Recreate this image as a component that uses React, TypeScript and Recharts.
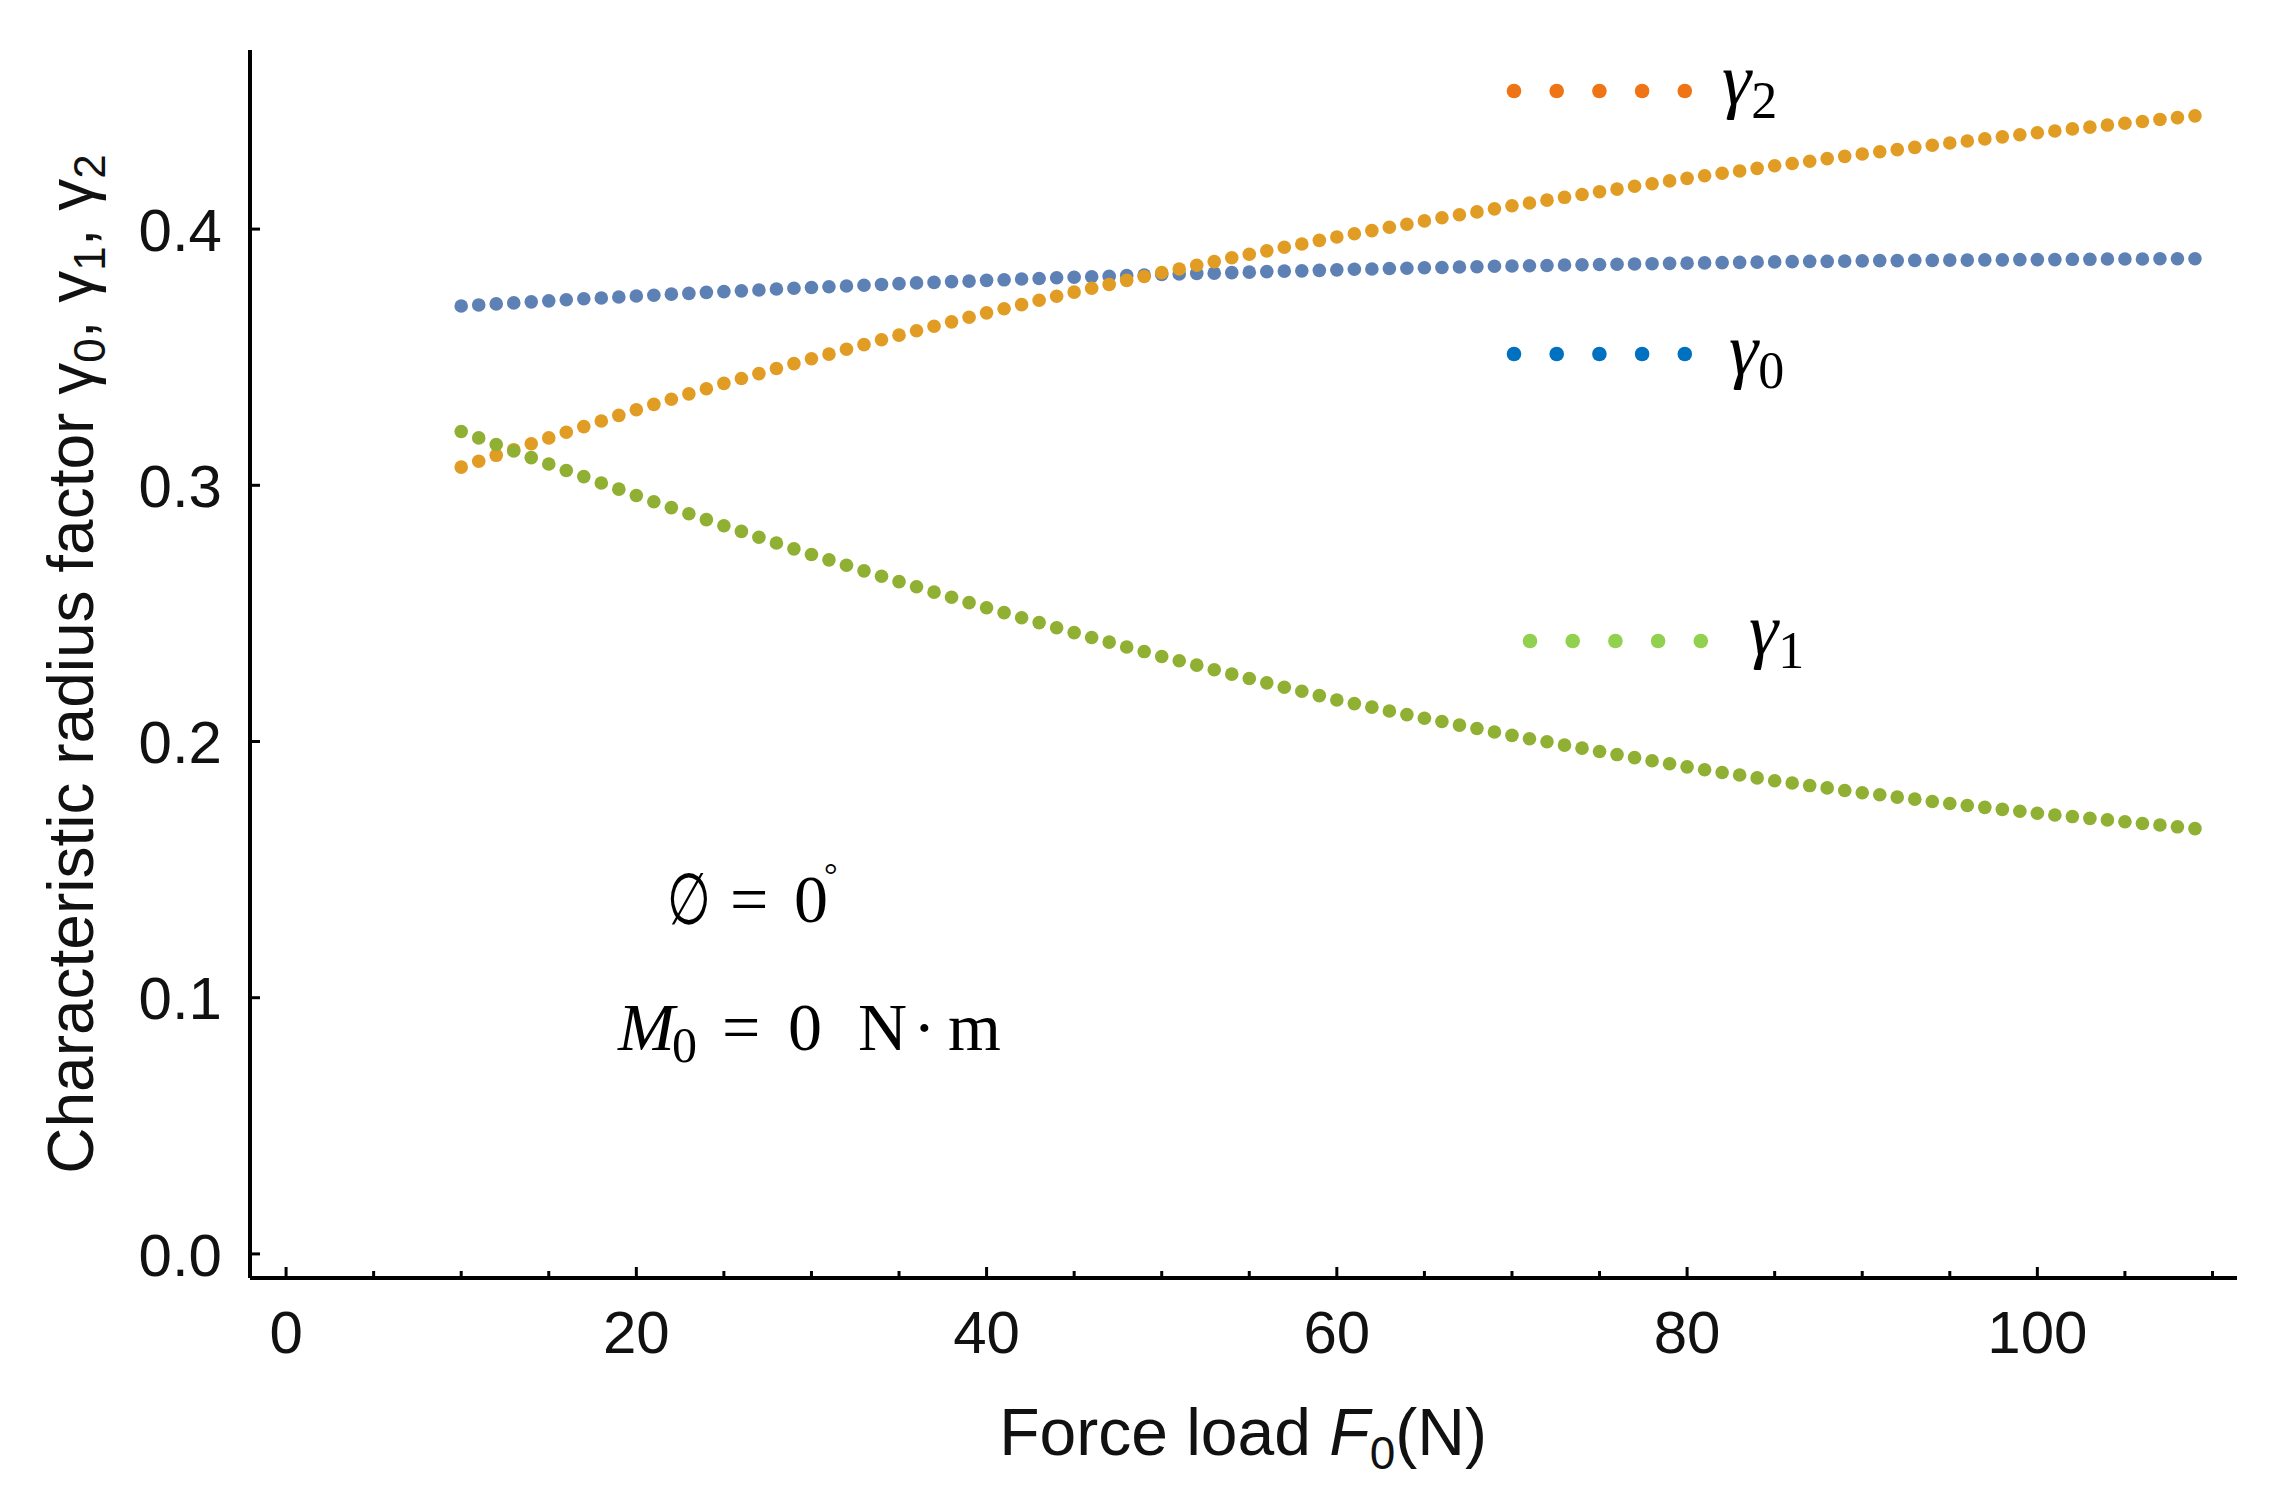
import { ScatterChart, Scatter, XAxis, YAxis, Customized } from 'recharts';

// force load F0 (N), one point per newton
const forces = [
  10, 11, 12, 13, 14, 15, 16, 17, 18, 19, 20, 21, 22, 23, 24, 25, 26, 27, 28, 29,
  30, 31, 32, 33, 34, 35, 36, 37, 38, 39, 40, 41, 42, 43, 44, 45, 46, 47, 48, 49,
  50, 51, 52, 53, 54, 55, 56, 57, 58, 59, 60, 61, 62, 63, 64, 65, 66, 67, 68, 69,
  70, 71, 72, 73, 74, 75, 76, 77, 78, 79, 80, 81, 82, 83, 84, 85, 86, 87, 88, 89,
  90, 91, 92, 93, 94, 95, 96, 97, 98, 99, 100, 101, 102, 103, 104, 105, 106, 107, 108, 109,
];

const gamma0 = [
  0.3700, 0.3704, 0.3708, 0.3712, 0.3716, 0.3720, 0.3724, 0.3728, 0.3731, 0.3735,
  0.3739, 0.3742, 0.3746, 0.3749, 0.3753, 0.3756, 0.3759, 0.3762, 0.3766, 0.3769,
  0.3772, 0.3775, 0.3778, 0.3781, 0.3784, 0.3787, 0.3790, 0.3792, 0.3795, 0.3797,
  0.3800, 0.3802, 0.3805, 0.3807, 0.3810, 0.3812, 0.3814, 0.3816, 0.3819, 0.3821,
  0.3823, 0.3825, 0.3827, 0.3828, 0.3830, 0.3832, 0.3834, 0.3836, 0.3837, 0.3839,
  0.3841, 0.3843, 0.3844, 0.3846, 0.3847, 0.3849, 0.3850, 0.3852, 0.3853, 0.3855,
  0.3856, 0.3857, 0.3858, 0.3860, 0.3861, 0.3862, 0.3863, 0.3864, 0.3865, 0.3866,
  0.3867, 0.3868, 0.3869, 0.3870, 0.3871, 0.3872, 0.3873, 0.3874, 0.3874, 0.3875,
  0.3876, 0.3877, 0.3877, 0.3878, 0.3878, 0.3879, 0.3879, 0.3880, 0.3880, 0.3881,
  0.3881, 0.3881, 0.3882, 0.3882, 0.3883, 0.3883, 0.3883, 0.3884, 0.3884, 0.3884,
];

const gamma1 = [
  0.3210, 0.3185, 0.3159, 0.3134, 0.3108, 0.3083, 0.3058, 0.3034, 0.3009, 0.2985,
  0.2960, 0.2936, 0.2913, 0.2889, 0.2866, 0.2842, 0.2820, 0.2797, 0.2775, 0.2752,
  0.2730, 0.2709, 0.2688, 0.2666, 0.2645, 0.2624, 0.2604, 0.2583, 0.2563, 0.2542,
  0.2522, 0.2503, 0.2483, 0.2464, 0.2444, 0.2425, 0.2406, 0.2388, 0.2369, 0.2351,
  0.2332, 0.2315, 0.2298, 0.2280, 0.2263, 0.2246, 0.2229, 0.2212, 0.2196, 0.2179,
  0.2162, 0.2148, 0.2134, 0.2119, 0.2105, 0.2091, 0.2078, 0.2064, 0.2051, 0.2037,
  0.2024, 0.2011, 0.1999, 0.1986, 0.1974, 0.1961, 0.1949, 0.1937, 0.1925, 0.1913,
  0.1901, 0.1890, 0.1879, 0.1869, 0.1858, 0.1847, 0.1838, 0.1828, 0.1819, 0.1809,
  0.1800, 0.1792, 0.1783, 0.1775, 0.1766, 0.1758, 0.1750, 0.1743, 0.1735, 0.1728,
  0.1720, 0.1713, 0.1707, 0.1700, 0.1694, 0.1687, 0.1680, 0.1674, 0.1667, 0.1660,
];

const gamma2 = [
  0.3071, 0.3094, 0.3117, 0.3139, 0.3162, 0.3185, 0.3207, 0.3229, 0.3251, 0.3273,
  0.3295, 0.3316, 0.3336, 0.3357, 0.3377, 0.3398, 0.3417, 0.3436, 0.3456, 0.3475,
  0.3494, 0.3512, 0.3531, 0.3549, 0.3568, 0.3586, 0.3603, 0.3621, 0.3638, 0.3656,
  0.3673, 0.3689, 0.3705, 0.3722, 0.3738, 0.3754, 0.3769, 0.3784, 0.3800, 0.3815,
  0.3830, 0.3844, 0.3859, 0.3873, 0.3888, 0.3902, 0.3915, 0.3929, 0.3942, 0.3956,
  0.3969, 0.3982, 0.3994, 0.4007, 0.4019, 0.4032, 0.4044, 0.4056, 0.4067, 0.4079,
  0.4091, 0.4102, 0.4113, 0.4124, 0.4135, 0.4146, 0.4156, 0.4167, 0.4177, 0.4188,
  0.4198, 0.4208, 0.4218, 0.4227, 0.4237, 0.4247, 0.4256, 0.4265, 0.4275, 0.4284,
  0.4293, 0.4302, 0.4310, 0.4319, 0.4327, 0.4336, 0.4344, 0.4352, 0.4360, 0.4368,
  0.4376, 0.4383, 0.4391, 0.4398, 0.4406, 0.4413, 0.4420, 0.4428, 0.4435, 0.4442,
];

const xTicks = [0, 5, 10, 15, 20, 25, 30, 35, 40, 45, 50, 55, 60, 65, 70, 75, 80, 85, 90, 95, 100, 105, 110];
const xLabelTicks = [0, 20, 40, 60, 80, 100];
const yTicks = [0, 0.1, 0.2, 0.3, 0.4];

const SANS = '"Liberation Sans", Arial, Helvetica, sans-serif';
const SERIF = '"Liberation Serif", "DejaVu Serif", serif';

// drawing order: blue, then orange, then green on top
const series = [
  { key: 'g0', values: gamma0, color: '#5E81B5' },
  { key: 'g2', values: gamma2, color: '#E19C24' },
  { key: 'g1', values: gamma1, color: '#8FB032' },
];

const legendRows = [
  { color: '#EE7416', sub: '2', dotX: 1514, dotY: 91, textX: 1722, baseline: 104 },
  { color: '#0070C0', sub: '0', dotX: 1514, dotY: 354, textX: 1729, baseline: 374 },
  { color: '#92D050', sub: '1', dotX: 1530, dotY: 641, textX: 1749, baseline: 654 },
];

const toPoints = (values: number[]) => forces.map((f, i) => ({ x: f, y: values[i] }));

const makeDot = (color: string) => (props: any) => (
  <circle cx={props.cx} cy={props.cy} r={6.8} fill={color} />
);

function XTick(props: any) {
  const { x, y, payload } = props;
  const labelled = xLabelTicks.includes(payload.value);
  return (
    <g>
      <line x1={x} x2={x} y1={y} y2={y - (labelled ? 11 : 7)} stroke="#000" strokeWidth={3} />
      {labelled && (
        <text x={x} y={y + 75} textAnchor="middle" fontFamily={SANS} fontSize={60} fill="#111">
          {payload.value}
        </text>
      )}
    </g>
  );
}

function YTick(props: any) {
  const { x, y, payload } = props;
  return (
    <g>
      <line x1={x} x2={x + 10} y1={y} y2={y} stroke="#000" strokeWidth={3} />
      <text x={x - 28} y={y} dy="0.36em" textAnchor="end" fontFamily={SANS} fontSize={60} fill="#111">
        {payload.value.toFixed(1)}
      </text>
    </g>
  );
}

function Overlay() {
  return (
    <g>
      {/* y axis title */}
      <text
        x={93}
        y={664}
        transform="rotate(-90 93 664)"
        textAnchor="middle"
        fontFamily={SANS}
        fontSize={64}
        fill="#111"
      >
        Characteristic radius factor γ
        <tspan dy={12} fontSize={44}>0</tspan>
        <tspan dy={-12}>, γ</tspan>
        <tspan dy={12} fontSize={44}>1</tspan>
        <tspan dy={-12}>, γ</tspan>
        <tspan dy={12} fontSize={44}>2</tspan>
      </text>

      {/* x axis title */}
      <text x={1243} y={1455} textAnchor="middle" fontFamily={SANS} fontSize={66} fill="#111">
        Force load <tspan fontStyle="italic">F</tspan>
        <tspan dy={14} fontSize={46}>0</tspan>
        <tspan dy={-14}>(N)</tspan>
      </text>

      {/* legend */}
      {legendRows.map((row) => (
        <g key={row.sub}>
          {[0, 1, 2, 3, 4].map((k) => (
            <circle key={k} cx={row.dotX + k * 42.7} cy={row.dotY} r={7.3} fill={row.color} />
          ))}
          <text x={row.textX} y={row.baseline} fontFamily={SERIF} fontSize={74} fill="#000">
            <tspan fontStyle="italic">γ</tspan>
            <tspan dy={14} fontSize={52}>{row.sub}</tspan>
          </text>
        </g>
      ))}

      {/* condition annotations */}
      <text x={667} y={924} textLength={44} lengthAdjust="spacingAndGlyphs" fontFamily={SERIF} fontSize={72} fill="#000">
        ∅
      </text>
      <text y={922} fontFamily={SERIF} fontSize={68} fill="#000">
        <tspan x={730}>=</tspan>
        <tspan x={794}>0</tspan>
        <tspan x={824} dy={-36} fontSize={34}>°</tspan>
      </text>
      <text y={1050} fontFamily={SERIF} fontSize={68} fill="#000">
        <tspan x={618} fontStyle="italic">M</tspan>
        <tspan x={672} dy={12} fontSize={50}>0</tspan>
        <tspan x={722} dy={-12}>=</tspan>
        <tspan x={788}>0</tspan>
        <tspan x={858}>N</tspan>
        <tspan x={913}>·</tspan>
        <tspan x={948}>m</tspan>
      </text>
    </g>
  );
}

export default function App() {
  return (
    <div style={{ position: 'absolute', left: 0, top: 0, width: 2280, height: 1494, background: '#fff' }}>
      <ScatterChart width={2280} height={1494} margin={{ top: 50, right: 43, bottom: 66, left: 50 }}>
        <XAxis
          type="number"
          dataKey="x"
          domain={[-2.06, 111.4]}
          ticks={xTicks}
          allowDataOverflow
          height={150}
          tickSize={0}
          tickMargin={0}
          tickLine={false}
          axisLine={{ stroke: '#000', strokeWidth: 4 }}
          tick={<XTick />}
          interval={0}
        />
        <YAxis
          type="number"
          dataKey="y"
          domain={[-0.0094, 0.4699]}
          ticks={yTicks}
          allowDataOverflow
          width={200}
          tickSize={0}
          tickMargin={0}
          tickLine={false}
          axisLine={{ stroke: '#000', strokeWidth: 4 }}
          tick={<YTick />}
          interval={0}
        />
        {series.map((s) => (
          <Scatter
            key={s.key}
            data={toPoints(s.values)}
            fill={s.color}
            shape={makeDot(s.color)}
            isAnimationActive={false}
          />
        ))}
        <Customized component={Overlay} />
      </ScatterChart>
    </div>
  );
}
